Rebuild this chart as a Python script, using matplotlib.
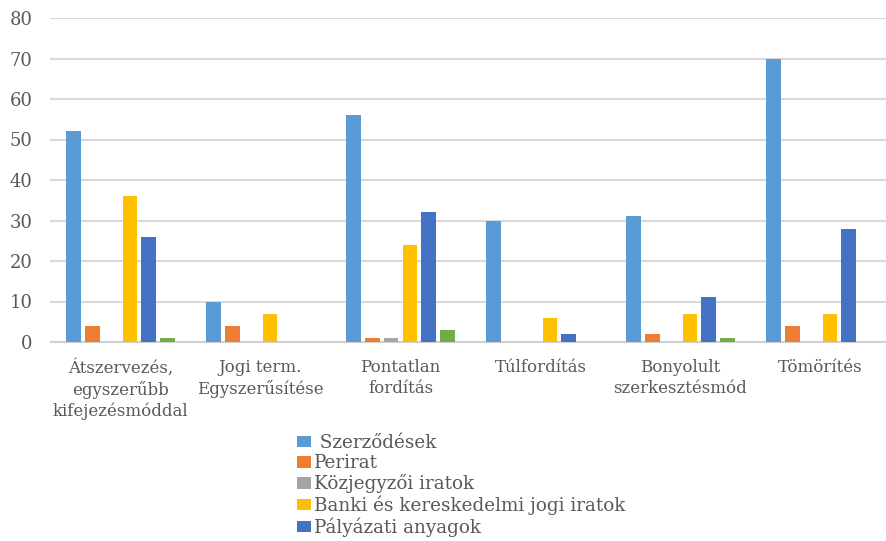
import matplotlib
matplotlib.use("Agg")
import matplotlib.pyplot as plt
import numpy as np

categories = [
    "Átszervezés,\negyszerűbb\nkifejezésmóddal",
    "Jogi term.\nEgyszerűsítése",
    "Pontatlan\nfordítás",
    "Túlfordítás",
    "Bonyolult\nszerkesztésmód",
    "Tömörítés",
]
series_names = [
    " Szerződések",
    "Perirat",
    "Közjegyzői iratok",
    "Banki és kereskedelmi jogi iratok",
    "Pályázati anyagok",
    "Egyéb",
]
szerzodesek = [52, 10, 56, 30, 31, 70]
perirat = [4, 4, 1, 0, 2, 4]
kozjegyzoi = [0, 0, 1, 0, 0, 0]
banki = [36, 7, 24, 6, 7, 7]
palyazati = [26, 0, 32, 2, 11, 28]
egyeb = [1, 0, 3, 0, 1, 0]
yticks = [0, 10, 20, 30, 40, 50, 60, 70, 80]

series_values = [szerzodesek, perirat, kozjegyzoi, banki, palyazati, egyeb]
colors = ["#5B9BD5", "#ED7D31", "#A5A5A5", "#FFC000", "#4472C4", "#70AD47"]

W, H = 887, 541
fig = plt.figure(figsize=(W / 100, H / 100), dpi=100)
ax = fig.add_axes([50.5 / W, 1 - 342 / H, 840 / W, 324 / H])

x = np.arange(len(categories))
pitch = 0.1335
width = 0.104
for k, (vals, col, name) in enumerate(zip(series_values, colors, series_names)):
    ax.bar(x + (k - 2.5) * pitch, vals, width=width, color=col, label=name, zorder=3)

ax.set_xlim(-0.5, len(categories) - 0.5)
ax.set_ylim(0, 80)
ax.set_yticks(yticks)
ax.yaxis.grid(True, color="#d9d9d9", linewidth=1.5, zorder=0)
ax.set_axisbelow(True)
for s in ["top", "right", "left"]:
    ax.spines[s].set_visible(False)
ax.spines["bottom"].set_color("#d0d0d0")
ax.spines["bottom"].set_linewidth(1.5)
ax.tick_params(axis="both", length=0)
ax.tick_params(axis="y", pad=13)
ax.tick_params(axis="x", pad=12)

txtc = "#595959"
ax.set_yticklabels([str(v) for v in yticks], fontsize=13, color=txtc,
                   family="DejaVu Serif")
ax.set_xticks(x)
ax.set_xticklabels(categories, fontsize=12, color=txtc,
                   family="DejaVu Serif", linespacing=1.3)

# only the first five series fit in the legend area
handles, labels = ax.get_legend_handles_labels()
leg = fig.legend(handles[:5], labels[:5], loc="upper left",
                 bbox_to_anchor=(297 / W, 1 - 434 / H),
                 frameon=False, ncol=1,
                 prop={"family": "DejaVu Serif", "size": 13.2},
                 handlelength=0.75, handleheight=0.6, handletextpad=0.18,
                 labelspacing=0.12, borderaxespad=0, borderpad=0)
for t in leg.get_texts():
    t.set_color(txtc)

fig.savefig("out.png", dpi=100)
